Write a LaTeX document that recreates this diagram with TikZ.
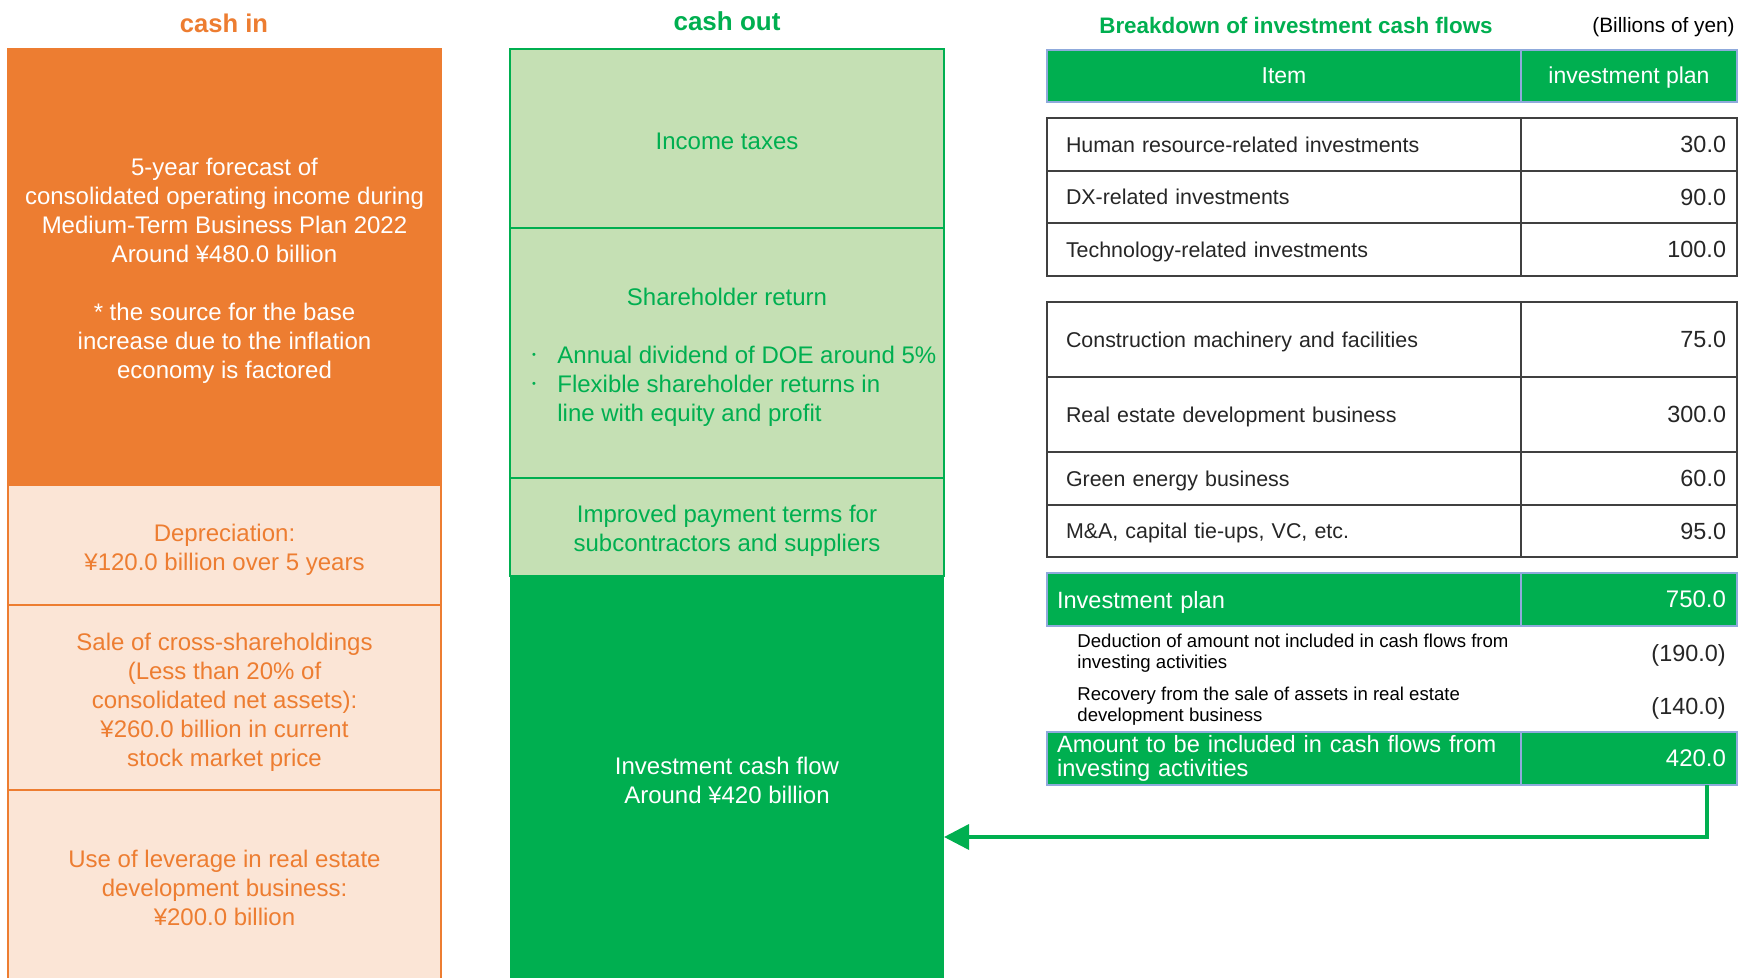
\documentclass[tikz,border=0pt]{standalone}
\usepackage{fontspec}
\setmainfont{Liberation Sans}
\usetikzlibrary{arrows.meta}
\definecolor{orgC}{HTML}{ED7D31}
\definecolor{orgL}{HTML}{FBE5D6}
\definecolor{grnC}{HTML}{00AF50}
\definecolor{grnL}{HTML}{C5E0B4}
\definecolor{txtG}{HTML}{262626}
\definecolor{brdG}{HTML}{404040}
\definecolor{hdrB}{HTML}{8FAADC}
\newcommand{\pbox}[7]{\node[#2, minimum width={(#5-(#3))*0.5pt}, minimum height={(#6-(#4))*0.5pt}] (#1) at ({(#3+#5)/2},{(#4+#6)/2}) {#7};}
\tikzset{
  base/.style={rectangle, inner sep=0pt, outer sep=0pt, align=center},
  f12/.style={font=\fontsize{12}{14.5}\selectfont},
  orgbig/.style={base, fill=orgC, draw=orgC, line width=1pt},
  orgsm/.style={base, fill=orgL, draw=orgC, line width=1.1pt},
  grnsm/.style={base, fill=grnL, draw=grnC, line width=1.1pt},
  grnbig/.style={base, fill=grnC},
  wtxt/.style={inner sep=0pt, f12, align=center, text=white},
  otxt/.style={inner sep=0pt, f12, align=center, text=orgC},
  grntxt/.style={inner sep=0pt, f12, align=center, text=grnC},
  dotfont/.style={inner sep=0pt, text=grnC, font=\fontsize{5.5}{6}\selectfont},
  itemcell/.style={base, draw=brdG, line width=0.7pt, text=txtG, font=\fontsize{10.7}{12.5}\selectfont, text width=218pt, align=left, text height=7.8pt, text depth=0pt},
  valcell/.style={base, draw=brdG, line width=0.7pt, text=txtG, font=\fontsize{11.7}{13}\selectfont, text width=97pt, align=right, text height=8.4pt, text depth=0pt},
  hdrcell/.style={base, fill=grnC, draw=hdrB, line width=0.6pt, text=white, font=\fontsize{11.5}{13}\selectfont, text height=8.3pt, text depth=1pt},
  sumitem/.style={base, fill=grnC, draw=hdrB, line width=0.6pt, text=white, font=\fontsize{11.8}{12}\selectfont, text width=227pt, align=left},
  sumval/.style={base, fill=grnC, draw=hdrB, line width=0.6pt, text=white, font=\fontsize{12}{12}\selectfont, text width=97pt, align=right, text height=8.6pt, text depth=0.8pt},
  dedtxt/.style={inner sep=0pt, text=black, font=\fontsize{9.3}{10.5}\selectfont, align=left},
  dedval/.style={inner sep=0pt, text=txtG, font=\fontsize{11.7}{13}\selectfont},
  flow/.style={draw=grnC, line width=1.8pt, -{Triangle[length=12.5pt,width=12.5pt]}},
}
\begin{document}
\begin{tikzpicture}[x=0.5pt, y=-0.5pt]
\useasboundingbox (0,0) rectangle (1738,978);
\fill[white] (0,0) rectangle (1738,978);

% titles
\node[inner sep=0pt, text=orgC, font=\bfseries\fontsize{12.8}{14}\selectfont] (tin) at (224,23) {cash in};
\node[inner sep=0pt, text=grnC, font=\bfseries\fontsize{13}{14}\selectfont] (tout) at (727,21) {cash out};
\node[inner sep=0pt, text=grnC, font=\bfseries\fontsize{11.2}{13}\selectfont] (tbrk) at (1296,25) {Breakdown of investment cash flows};
\node[inner sep=0pt, anchor=east, text=black, font=\fontsize{10.4}{12}\selectfont] (tunit) at (1735,27) {(Billions of yen)};

% cash in column
\pbox{main}{orgbig}{8}{49}{441}{485}{}
\node[wtxt] (maint) at (224.5,270.5) {5-year forecast of\\consolidated operating income during\\Medium-Term Business Plan 2022\\Around ¥480.0 billion\\[14.5pt]* the source for the base\\increase due to the inflation\\economy is factored};
\pbox{depr}{orgsm}{8}{485}{441}{605}{}
\node[otxt] (deprt) at (224.5,549.5) {Depreciation:\\¥120.0 billion over 5 years};
\pbox{sale}{orgsm}{8}{605}{441}{790}{}
\node[otxt] (salet) at (224.5,702.5) {Sale of cross-shareholdings\\(Less than 20\% of\\consolidated net assets):\\¥260.0 billion in current\\stock market price};
\pbox{lev}{orgsm}{8}{790}{441}{990}{}
\node[otxt] (levt) at (224.5,888) {Use of leverage in real estate\\development business:\\¥200.0 billion};

% cash out column
\pbox{tax}{grnsm}{510}{49}{944}{228}{}
\node[grntxt] (taxt) at (727,141) {Income taxes};
\pbox{share}{grnsm}{510}{228}{944}{478}{}
\node[grntxt] (sht) at (727,297) {Shareholder return};
\node[dotfont] (shd1) at (534,356) {•};
\node[grntxt, anchor=west] (shl1) at (557,355) {Annual dividend of DOE around 5\%};
\node[dotfont] (shd2) at (534,385) {•};
\node[grntxt, anchor=west, align=left] (shl2) at (557,401) {Flexible shareholder returns in\\line with equity and profit};
\pbox{pay}{grnsm}{510}{478}{944}{576}{}
\node[grntxt] (payt) at (727,531) {Improved payment terms for\\subcontractors and suppliers};
\pbox{invcf}{grnbig}{510}{576}{944}{990}{}
\node[wtxt] (invcft) at (727,780) {Investment cash flow\\Around ¥420 billion};

% table header
\pbox{hi}{hdrcell}{1047}{50}{1521}{102}{Item}
\pbox{hv}{hdrcell}{1521}{50}{1737}{102}{investment plan}

% block 1
\pbox{r1i}{itemcell}{1047}{118}{1521}{171}{Human resource-related investments}
\pbox{r1v}{valcell}{1521}{118}{1737}{171}{30.0}
\pbox{r2i}{itemcell}{1047}{171}{1521}{223}{DX-related investments}
\pbox{r2v}{valcell}{1521}{171}{1737}{223}{90.0}
\pbox{r3i}{itemcell}{1047}{223}{1521}{276}{Technology-related investments}
\pbox{r3v}{valcell}{1521}{223}{1737}{276}{100.0}

% block 2
\pbox{r4i}{itemcell}{1047}{302}{1521}{377}{Construction machinery and facilities}
\pbox{r4v}{valcell}{1521}{302}{1737}{377}{75.0}
\pbox{r5i}{itemcell}{1047}{377}{1521}{452}{Real estate development business}
\pbox{r5v}{valcell}{1521}{377}{1737}{452}{300.0}
\pbox{r6i}{itemcell}{1047}{452}{1521}{505}{Green energy business}
\pbox{r6v}{valcell}{1521}{452}{1737}{505}{60.0}
\pbox{r7i}{itemcell}{1047}{505}{1521}{557}{M\&A, capital tie-ups, VC, etc.}
\pbox{r7v}{valcell}{1521}{505}{1737}{557}{95.0}

% summary
\pbox{ipi}{sumitem, text height=8.6pt, text depth=0pt}{1047}{573}{1521}{626}{Investment plan}
\pbox{ipv}{sumval}{1521}{573}{1737}{626}{750.0}
\node[dedtxt, anchor=west] (d1t) at (1077,653) {Deduction of amount not included in cash flows from\\investing activities};
\node[dedval, anchor=east] (d1v) at (1726,655) {(190.0)};
\node[dedtxt, anchor=west] (d2t) at (1077,706) {Recovery from the sale of assets in real estate\\development business};
\node[dedval, anchor=east] (d2v) at (1726,708) {(140.0)};
\pbox{amti}{sumitem}{1047}{732}{1521}{785}{Amount to be included in cash flows from\\investing activities}
\pbox{amtv}{sumval}{1521}{732}{1737}{785}{420.0}

% connector
\coordinate (turn) at (1707,837);
\draw[flow] (amtv.south -| turn) -- (turn) -- (turn -| invcf.east);
\end{tikzpicture}
\end{document}
